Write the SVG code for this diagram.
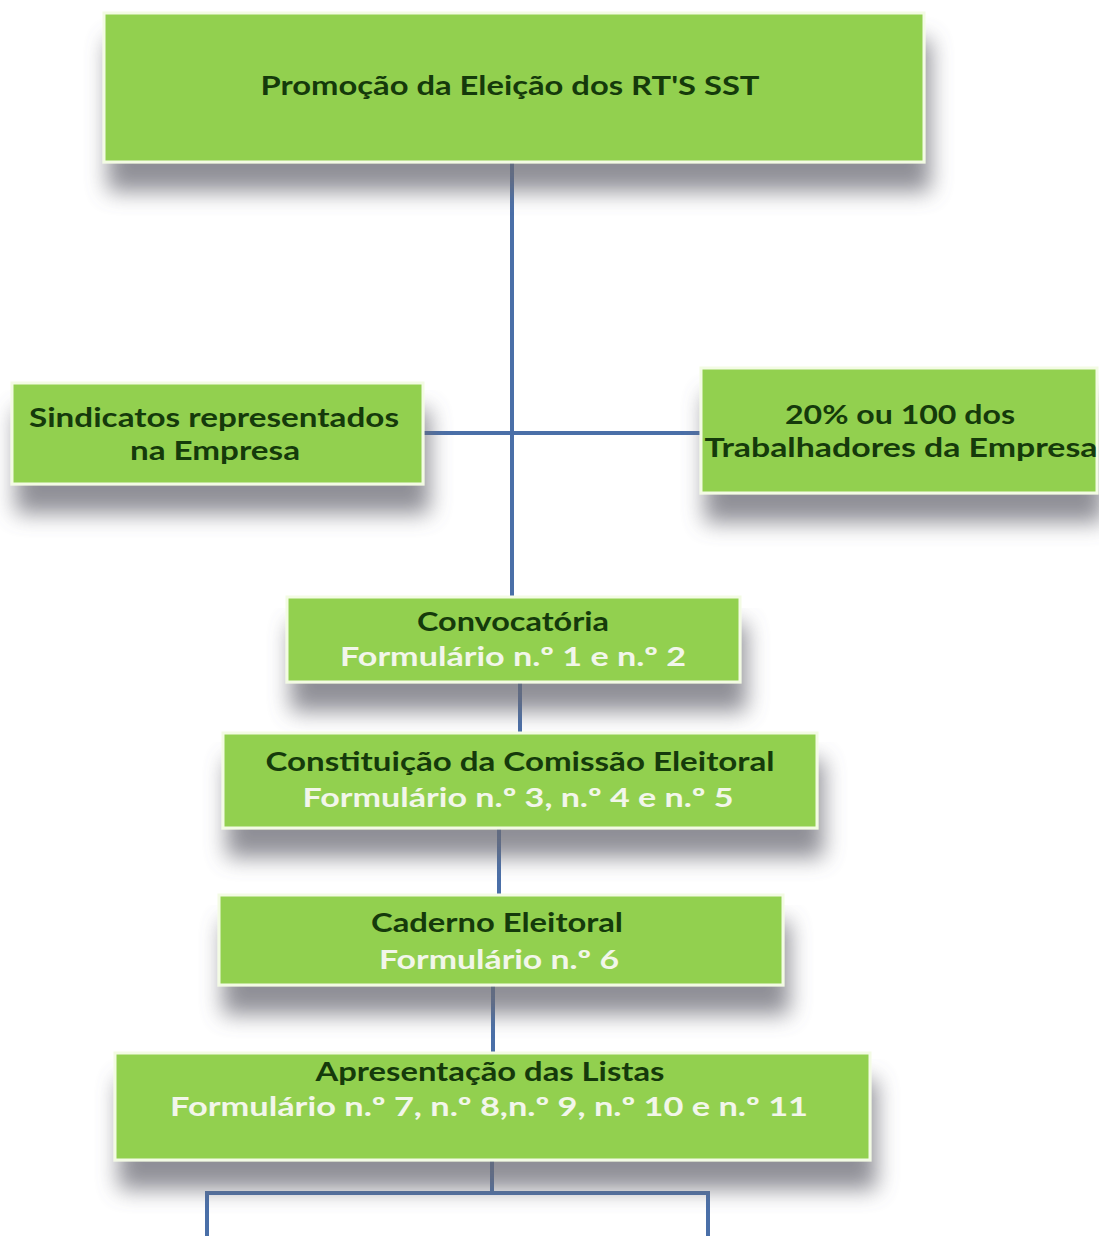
<svg xmlns="http://www.w3.org/2000/svg" width="1099" height="1236" viewBox="0 0 1099 1236">
<defs>
<filter id="sh" x="-10%" y="-20%" width="125%" height="200%">
<feGaussianBlur in="SourceAlpha" stdDeviation="11" result="b"/>
<feOffset in="b" dx="5" dy="28" result="o"/>
<feComponentTransfer in="o" result="s"><feFuncA type="linear" slope="0.75"/></feComponentTransfer>
<feFlood flood-color="#6a6a74"/>
<feComposite in2="s" operator="in" result="c"/>
<feMerge><feMergeNode in="c"/><feMergeNode in="SourceGraphic"/></feMerge>
</filter>
</defs>
<style>
.box{fill:#92d050;stroke:#f3fbe4;stroke-width:3;filter:url(#sh)}
.t{font-family:Lato,"Open Sans","Liberation Sans",sans-serif;font-weight:700;font-size:26px;text-anchor:middle}
.d{fill:#153a0b}
.w{fill:#f2f6ea}
.c{fill:none;stroke:#4a6fa8;stroke-width:4}
</style>
<rect width="1099" height="1236" fill="#ffffff"/>
<g id="connectors">
<path class="c" d="M512 162 V597"/>
<path class="c" d="M423 433 H701"/>
<path class="c" d="M520 682 V733"/>
<path class="c" d="M499 828 V895"/>
<path class="c" d="M493 985 V1053"/>
<path class="c" d="M492 1160 V1193 M207 1236 V1193 H708 V1236"/>
</g>
<g id="n-promocao">
<rect class="box" x="104" y="13" width="820" height="149"/>
<text class="t d" x="510" y="95" font-size="28" textLength="499" lengthAdjust="spacingAndGlyphs">Promoção da Eleição dos RT'S SST</text>
</g>
<g id="n-sindicatos">
<rect class="box" x="12" y="383" width="411" height="101"/>
<text class="t d" x="214" y="427" textLength="370" lengthAdjust="spacingAndGlyphs">Sindicatos representados</text>
<text class="t d" x="215" y="460" textLength="170" lengthAdjust="spacingAndGlyphs">na Empresa</text>
</g>
<g id="n-trabalhadores">
<rect class="box" x="701" y="368" width="396" height="125"/>
<text class="t d" x="900" y="424" textLength="230" lengthAdjust="spacingAndGlyphs">20% ou 100 dos</text>
<text class="t d" x="901" y="457" textLength="393" lengthAdjust="spacingAndGlyphs">Trabalhadores da Empresa</text>
</g>
<g id="n-convocatoria">
<rect class="box" x="287" y="597" width="453" height="85"/>
<text class="t d" x="513" y="631" textLength="192" lengthAdjust="spacingAndGlyphs">Convocatória</text>
<text class="t w" x="513" y="666" textLength="346" lengthAdjust="spacingAndGlyphs">Formulário n.º 1 e n.º 2</text>
</g>
<g id="n-comissao">
<rect class="box" x="223" y="733" width="594" height="95"/>
<text class="t d" x="520" y="771" textLength="509" lengthAdjust="spacingAndGlyphs">Constituição da Comissão Eleitoral</text>
<text class="t w" x="518" y="807" textLength="431" lengthAdjust="spacingAndGlyphs">Formulário n.º 3, n.º 4 e n.º 5</text>
</g>
<g id="n-caderno">
<rect class="box" x="219" y="895" width="564" height="90"/>
<text class="t d" x="497" y="932" textLength="252" lengthAdjust="spacingAndGlyphs">Caderno Eleitoral</text>
<text class="t w" x="499" y="969" textLength="240" lengthAdjust="spacingAndGlyphs">Formulário n.º 6</text>
</g>
<g id="n-listas">
<rect class="box" x="115" y="1053" width="755" height="107"/>
<text class="t d" x="490" y="1081" textLength="349" lengthAdjust="spacingAndGlyphs">Apresentação das Listas</text>
<text class="t w" x="489" y="1116" textLength="638" lengthAdjust="spacingAndGlyphs">Formulário n.º 7, n.º 8,n.º 9, n.º 10 e n.º 11</text>
</g>
</svg>
